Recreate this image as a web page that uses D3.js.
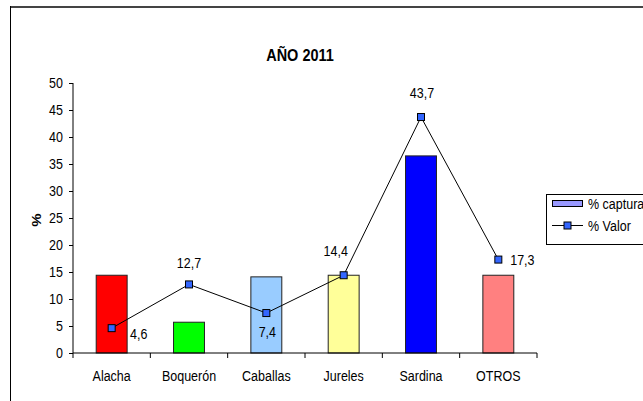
<!DOCTYPE html>
<html>
<head>
<meta charset="utf-8">
<script src="https://cdn.jsdelivr.net/npm/d3@7"></script>
<style>
  body { margin: 0; background: #fff; }
  svg { display: block; font-family: "Liberation Sans", Arial, sans-serif; }
</style>
</head>
<body>
<div id="chart"></div>
<script>
// chart data
var categories = ["Alacha", "Boquerón", "Caballas", "Jureles", "Sardina", "OTROS"];
var captura = [14.4, 5.7, 14.1, 14.4, 36.5, 14.4];
var valor = [4.6, 12.7, 7.4, 14.4, 43.7, 17.3];
var valorLabels = ["4,6", "12,7", "7,4", "14,4", "43,7", "17,3"];
var barColors = ["#FF0000", "#00FF00", "#99CCFF", "#FFFF99", "#0000FF", "#FF8080"];
var yTicks = [0, 5, 10, 15, 20, 25, 30, 35, 40, 45, 50];

var svgWidth = 643, svgHeight = 401;
var margin = {top: 83, left: 73};
var width = 464, height = 270;
var stretch = 1.2;   // the original text is drawn tall and narrow
var fs = "12.5px";

var svg = d3.select("#chart")
    .append("svg")
    .attr("width", svgWidth)
    .attr("height", svgHeight);

// put text at x,y (baseline) stretched vertically
function tallText(g, x, y, txt) {
    return g.append("text")
        .attr("transform", `translate(${x}, ${y}) scale(1, ${stretch})`)
        .attr("font-size", fs)
        .attr("fill", "#000")
        .text(txt);
}

// outer frame
svg.append("line").attr("x1", 10).attr("x2", svgWidth).attr("y1", 7).attr("y2", 7)
    .attr("stroke", "#444").attr("stroke-width", 2);
svg.append("line").attr("x1", 10.5).attr("x2", 10.5).attr("y1", 6).attr("y2", svgHeight)
    .attr("stroke", "#000").attr("stroke-width", 1);

// title
tallText(svg, 300, 61, "AÑO 2011")
    .attr("text-anchor", "middle")
    .attr("font-size", "14.5px")
    .attr("font-weight", "bold");

var chartGroup = svg.append("g")
    .attr("transform", `translate(${margin.left}, ${margin.top})`);

var xScale = d3.scaleBand().domain(categories).range([0, width]);
var yScale = d3.scaleLinear().domain([0, 50]).range([height, 0]);

// bars
chartGroup.selectAll("rect.bar")
    .data(captura)
    .enter()
    .append("rect")
    .attr("class", "bar")
    .attr("x", (d, i) => xScale(categories[i]) + xScale.bandwidth() * 0.3)
    .attr("width", xScale.bandwidth() * 0.4)
    .attr("y", d => yScale(d))
    .attr("height", d => height - yScale(d))
    .attr("fill", (d, i) => barColors[i])
    .attr("stroke", "#222")
    .attr("stroke-width", 1);

// y axis
var leftAxis = d3.axisLeft(yScale).tickValues(yTicks).tickSize(4).tickPadding(6);
var yAxisG = chartGroup.append("g").call(leftAxis);
yAxisG.select(".domain").attr("d", `M0,0V${height}`);
yAxisG.selectAll("line, path").attr("stroke", "#000");
yAxisG.selectAll("text")
    .attr("font-size", fs).attr("fill", "#000").attr("font-family", null)
    .attr("dy", "0.3em")
    .attr("transform", `scale(1, ${stretch})`);

// x axis with ticks at category boundaries
var xAxisG = chartGroup.append("g").attr("transform", `translate(0, ${height})`);
xAxisG.append("line").attr("x1", 0).attr("x2", width).attr("stroke", "#000");
xAxisG.selectAll("line.tick")
    .data(d3.range(categories.length + 1))
    .enter()
    .append("line")
    .attr("x1", i => i * xScale.step()).attr("x2", i => i * xScale.step())
    .attr("y1", 0).attr("y2", 5)
    .attr("stroke", "#000");
categories.forEach(function(c) {
    tallText(xAxisG, xScale(c) + xScale.bandwidth() / 2, 28, c)
        .attr("text-anchor", "middle");
});

// y label
svg.append("text")
    .attr("transform", `translate(41, 220) rotate(-90) scale(${stretch}, 1)`)
    .attr("text-anchor", "middle")
    .attr("font-size", fs)
    .attr("font-weight", "bold")
    .text("%");

// line series
var cx = i => xScale(categories[i]) + xScale.bandwidth() / 2;
var line = d3.line().x((d, i) => cx(i)).y(d => yScale(d));
chartGroup.append("path")
    .datum(valor)
    .attr("d", line)
    .attr("fill", "none")
    .attr("stroke", "#000")
    .attr("stroke-width", 1);

chartGroup.selectAll("rect.marker")
    .data(valor)
    .enter()
    .append("rect")
    .attr("class", "marker")
    .attr("x", (d, i) => cx(i) - 3.5)
    .attr("y", d => yScale(d) - 3.5)
    .attr("width", 7).attr("height", 7)
    .attr("fill", "#3366FF")
    .attr("stroke", "#000")
    .attr("stroke-width", 1);

// data labels (offsets relative to marker)
var labelOffsets = [[27, 6], [0, -21], [1, 19], [-8, -24], [1, -24], [24, 0]];
valor.forEach(function(v, i) {
    tallText(chartGroup, cx(i) + labelOffsets[i][0], yScale(v) + labelOffsets[i][1] + 5, valorLabels[i])
        .attr("text-anchor", "middle");
});

// legend
var legend = svg.append("g");
legend.append("rect")
    .attr("x", 546.5).attr("y", 194.5)
    .attr("width", 110).attr("height", 50)
    .attr("fill", "#fff").attr("stroke", "#000");
legend.append("rect")
    .attr("x", 552.5).attr("y", 200.5)
    .attr("width", 30).attr("height", 6)
    .attr("fill", "#9999FF").attr("stroke", "#000");
tallText(legend, 588, 209, "% captura");
legend.append("line")
    .attr("x1", 552).attr("x2", 583).attr("y1", 225.5).attr("y2", 225.5)
    .attr("stroke", "#000");
legend.append("rect")
    .attr("x", 564).attr("y", 222).attr("width", 7).attr("height", 7)
    .attr("fill", "#3366FF").attr("stroke", "#000");
tallText(legend, 588, 231, "% Valor");
</script>
</body>
</html>
